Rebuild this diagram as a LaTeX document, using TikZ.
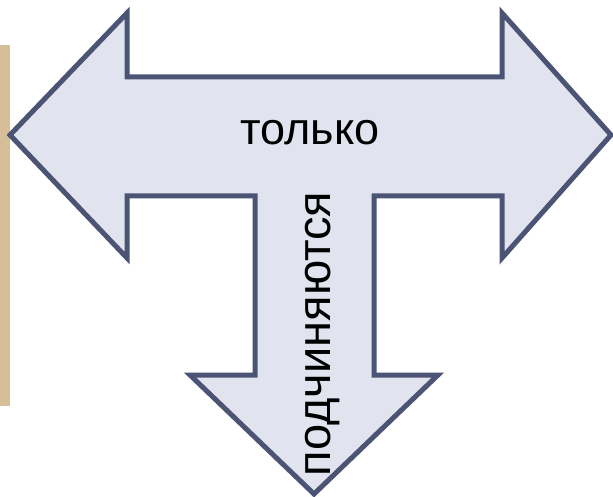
\documentclass[tikz,border=0pt]{standalone}
\usepackage{fontspec}
\setmainfont{Liberation Sans}
\usetikzlibrary{positioning}
\definecolor{arrow_fill}{HTML}{E1E4EE}
\definecolor{arrow_line}{HTML}{4B5474}
\definecolor{strip_beige}{HTML}{D6BE98}
\tikzset{
    tarrow/.style={fill=arrow_fill, draw=arrow_line, line width=5pt, line join=miter},
    word/.style={text=black, inner sep=0pt, anchor=base}
}

\begin{document}
\begin{tikzpicture}[x=1pt,y=-1pt]
	\useasboundingbox (0,0) rectangle (613,497);
	% beige strip on the left
	\fill[strip_beige] (0,45) rectangle (10,406);

	% three-way arrow
	\draw[tarrow] (10,135) -- (127,13) -- (127,77) -- (502,77) -- (502,13)
	    -- (611,135) -- (502,258) -- (502,196) -- (374,196) -- (374,375)
	    -- (438,375) -- (314,494) -- (190,375) -- (255,375) -- (255,196)
	    -- (127,196) -- (127,258) -- cycle;

	\node[word, font=\fontsize{45}{47}\selectfont] (only) at (310,145) {только};
	\node[word, font=\fontsize{47}{49}\selectfont, rotate=90] (obey) at (330,334) {подчиняются};
\end{tikzpicture}
\end{document}
